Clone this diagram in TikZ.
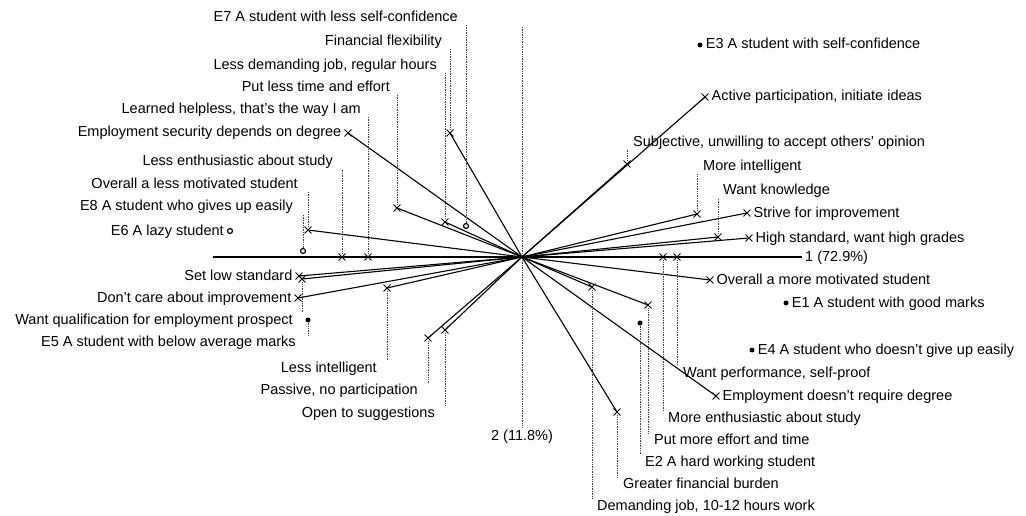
\documentclass[tikz,border=0pt]{standalone}
\usepackage{fontspec}
\setmainfont{Liberation Sans}
\usetikzlibrary{positioning,shapes.misc}

\begin{document}
\begin{tikzpicture}[x=1pt,y=-1pt,
    pole/.style={cross out,draw,minimum size=6pt,inner sep=0pt,line width=0.9pt},
    elem/.style={circle,fill,minimum size=5pt,inner sep=0pt},
    ring/.style={circle,draw,minimum size=5pt,inner sep=0pt,line width=1.2pt},
    lbl/.style={font=\fontsize{14.5}{16}\selectfont,inner sep=1pt,text height=10pt,text depth=2pt},
    ray/.style={line width=1.1pt},
    lead/.style={densely dotted,line width=0.7pt,black!75}]
    \useasboundingbox (0,0) rectangle (1026,516);

    % axes
    \coordinate (O) at (522,257);
    \coordinate (a_l) at (213,257);
    \coordinate (a_r) at (802,257);
    \coordinate (a_t) at (522,27);
    \coordinate (a_b) at (522,428);
    \draw[ray] (a_l) -- (a_r);
    \draw[lead] (a_t) -- (a_b);
    \node[lbl, right=2pt of a_r] (ax_1) {1 (72.9\%)};
    \node[lbl, below=1pt of a_b] (ax_2) {2 (11.8\%)};

    % construct poles, left side
    \node[pole] (c_1) at (450,133) {};
    \node[pole] (c_2) at (445,222) {};
    \node[pole] (c_3) at (397,208) {};
    \node[pole] (c_4) at (368,257) {};
    \node[pole] (c_5) at (348,133) {};
    \node[pole] (c_6) at (342,257) {};
    \node[pole] (c_7) at (308,230) {};
    \node[pole] (c_8) at (299,276) {};
    \node[pole] (c_9) at (302,279) {};
    \node[pole] (c_10) at (298,298) {};
    \node[pole] (c_11) at (387,288) {};
    \node[pole] (c_12) at (428,338) {};
    \node[pole] (c_13) at (445,330) {};
    % construct poles, right side
    \node[pole] (c_14) at (705,97) {};
    \node[pole] (c_15) at (627,164) {};
    \node[pole] (c_16) at (697,214) {};
    \node[pole] (c_17) at (718,237) {};
    \node[pole] (c_18) at (747,213) {};
    \node[pole] (c_19) at (749,238) {};
    \node[pole] (c_20) at (710,280) {};
    \node[pole] (c_21) at (677,257) {};
    \node[pole] (c_22) at (716,396) {};
    \node[pole] (c_23) at (663,257) {};
    \node[pole] (c_24) at (648,305) {};
    \node[pole] (c_25) at (617,412) {};
    \node[pole] (c_26) at (592,287) {};

    % elements
    \node[elem] (e_1) at (786,303) {};
    \node[elem] (e_2) at (640,323) {};
    \node[elem] (e_3) at (700,45) {};
    \node[elem] (e_4) at (752,350) {};
    \node[elem] (e_5) at (308,320) {};
    \node[ring] (e_6) at (230,231) {};
    \node[ring] (e_7) at (466,226) {};
    \node[ring] (e_8) at (303,251) {};

    % labels
    \node[lbl, anchor=east] (l_1) at (443,42) {Financial flexibility};
    \node[lbl, anchor=east] (l_2) at (438,66) {Less demanding job, regular hours};
    \node[lbl, anchor=east] (l_3) at (391,88) {Put less time and effort};
    \node[lbl, anchor=east] (l_4) at (362,110) {Learned helpless, that's the way I am};
    \node[lbl, left=2pt of c_5] (l_5) {Employment security depends on degree};
    \node[lbl, anchor=east] (l_6) at (334,162) {Less enthusiastic about study};
    \node[lbl, anchor=east] (l_7) at (299,185) {Overall a less motivated student};
    \node[lbl, left=2pt of c_8] (l_8) {Set low standard};
    \node[lbl, anchor=east] (l_9) at (294,320) {Want qualification for employment prospect};
    \node[lbl, left=2pt of c_10] (l_10) {Don't care about improvement};
    \node[lbl, anchor=east] (l_11) at (378,368) {Less intelligent};
    \node[lbl, anchor=east] (l_12) at (419,390) {Passive, no participation};
    \node[lbl, anchor=east] (l_13) at (436,413) {Open to suggestions};
    \node[lbl, right=2pt of c_14] (l_14) {Active participation, initiate ideas};
    \node[lbl, anchor=west] (l_15) at (632,143) {Subjective, unwilling to accept others' opinion};
    \node[lbl, anchor=west] (l_16) at (702,167) {More intelligent};
    \node[lbl, anchor=west] (l_17) at (722,191) {Want knowledge};
    \node[lbl, right=2pt of c_18] (l_18) {Strive for improvement};
    \node[lbl, right=2pt of c_19] (l_19) {High standard, want high grades};
    \node[lbl, right=2pt of c_20] (l_20) {Overall a more motivated student};
    \node[lbl, anchor=west] (l_21) at (682,373) {Want performance, self-proof};
    \node[lbl, right=2pt of c_22] (l_22) {Employment doesn't require degree};
    \node[lbl, anchor=west] (l_23) at (667,418) {More enthusiastic about study};
    \node[lbl, anchor=west] (l_24) at (653,440) {Put more effort and time};
    \node[lbl, anchor=west] (l_25) at (622,484) {Greater financial burden};
    \node[lbl, anchor=west] (l_26) at (596,506) {Demanding job, 10-12 hours work};

    \node[lbl, anchor=west] (m_2) at (644,462) {E2 A hard working student};
    \node[lbl, right=2pt of e_1] (m_1) {E1 A student with good marks};
    \node[lbl, right=2pt of e_3] (m_3) {E3 A student with self-confidence};
    \node[lbl, right=2pt of e_4] (m_4) {E4 A student who doesn't give up easily};
    \node[lbl, anchor=east] (m_5) at (297,342) {E5 A student with below average marks};
    \node[lbl, left=2pt of e_6] (m_6) {E6 A lazy student};
    \node[lbl, anchor=east] (m_7) at (459,18) {E7 A student with less self-confidence};
    \node[lbl, anchor=east] (m_8) at (294,207) {E8 A student who gives up easily};

    \path[ray]
    (O) edge (c_1.center) (O) edge (c_2.center) (O) edge (c_3.center)
    (O) edge (c_5.center) (O) edge (c_7.center) (O) edge (c_8.center)
    (O) edge (c_9.center) (O) edge (c_10.center) (O) edge (c_11.center)
    (O) edge (c_12.center) (O) edge (c_13.center) (O) edge (c_14.center)
    (O) edge (c_15.center) (O) edge (c_16.center) (O) edge (c_17.center)
    (O) edge (c_18.center) (O) edge (c_19.center) (O) edge (c_20.center)
    (O) edge (c_22.center) (O) edge (c_24.center) (O) edge (c_25.center)
    (O) edge (c_26.center)
    ;

    \path[lead]
    (c_1) edge (c_1 |- l_1.south)
    (c_2) edge (c_2 |- l_2.south)
    (c_3) edge (c_3 |- l_3.south)
    (c_4) edge (c_4 |- l_4.south)
    (c_6) edge (c_6 |- l_6.south)
    (c_7) edge (c_7 |- l_7.south)
    (c_9) edge (c_9 |- l_9.north)
    (c_11) edge (c_11 |- l_11.north)
    (c_12) edge (c_12 |- l_12.north)
    (c_13) edge (c_13 |- l_13.north)
    (c_15) edge (c_15 |- l_15.south)
    (c_16) edge (c_16 |- l_16.south)
    (c_17) edge (c_17 |- l_17.south)
    (c_21) edge (c_21 |- l_21.north)
    (c_23) edge (c_23 |- l_23.north)
    (c_24) edge (c_24 |- l_24.north)
    (c_25) edge (c_25 |- l_25.north)
    (c_26) edge (c_26 |- l_26.north)
    (e_2) edge (e_2 |- m_2.north)
    (e_5) edge (e_5 |- m_5.north)
    (e_7) edge (e_7 |- m_7.south)
    (e_8) edge (e_8 |- m_8.south)
    ;
\end{tikzpicture}
\end{document}
